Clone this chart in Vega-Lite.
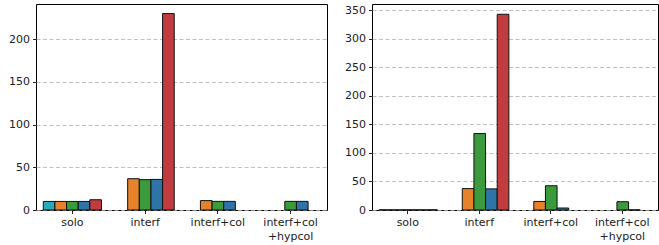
{
  "$schema": "https://vega.github.io/schema/vega-lite/v6.json",
  "padding": {"left": 8, "top": 3, "right": 1, "bottom": 0},
  "background": "white",
  "spacing": 16,
  "config": {
    "font": "DejaVu Sans",
    "view": {"stroke": "#000000", "strokeWidth": 1},
    "axis": {
      "labelFont": "DejaVu Sans",
      "labelFontSize": 11,
      "labelColor": "#222222",
      "tickColor": "#222222",
      "tickSize": 3.5,
      "domain": false,
      "title": null
    },
    "bar": {"stroke": "#111111", "strokeWidth": 1}
  },
  "datasets": {
    "left": [
      {"cat": "solo", "series": "s1", "value": 10},
      {"cat": "solo", "series": "s2", "value": 10},
      {"cat": "solo", "series": "s3", "value": 10},
      {"cat": "solo", "series": "s4", "value": 10},
      {"cat": "solo", "series": "s5", "value": 12},
      {"cat": "interf", "series": "s2", "value": 36.6},
      {"cat": "interf", "series": "s3", "value": 35.5},
      {"cat": "interf", "series": "s4", "value": 35.8},
      {"cat": "interf", "series": "s5", "value": 229.8},
      {"cat": "interf+col", "series": "s2", "value": 11},
      {"cat": "interf+col", "series": "s3", "value": 10.1},
      {"cat": "interf+col", "series": "s4", "value": 10.1},
      {"cat": "interf+col +hypcol", "series": "s3", "value": 10.1},
      {"cat": "interf+col +hypcol", "series": "s4", "value": 10.1}
    ],
    "right": [
      {"cat": "solo", "series": "s1", "value": 0.3},
      {"cat": "solo", "series": "s2", "value": 0.3},
      {"cat": "solo", "series": "s3", "value": 0.3},
      {"cat": "solo", "series": "s4", "value": 0.3},
      {"cat": "solo", "series": "s5", "value": 0.3},
      {"cat": "interf", "series": "s2", "value": 37.5},
      {"cat": "interf", "series": "s3", "value": 134},
      {"cat": "interf", "series": "s4", "value": 37},
      {"cat": "interf", "series": "s5", "value": 343},
      {"cat": "interf+col", "series": "s2", "value": 15},
      {"cat": "interf+col", "series": "s3", "value": 42.5},
      {"cat": "interf+col", "series": "s4", "value": 3.5},
      {"cat": "interf+col +hypcol", "series": "s3", "value": 14.5},
      {"cat": "interf+col +hypcol", "series": "s4", "value": 0.3}
    ]
  },
  "hconcat": [
    {
      "width": 291,
      "height": 206,
      "data": {"name": "left"},
      "mark": {"type": "bar"},
      "encoding": {
        "x": {
          "field": "cat", "type": "nominal",
          "sort": ["solo", "interf", "interf+col", "interf+col +hypcol"],
          "scale": {"domain": ["solo", "interf", "interf+col", "interf+col +hypcol"], "paddingInner": 0.2, "paddingOuter": 0.1},
          "axis": {"labelAngle": 0, "labelExpr": "split(datum.label, ' ')", "labelPadding": 3, "labelLineHeight": 14, "grid": false}
        },
        "xOffset": {"field": "series", "type": "nominal", "scale": {"domain": ["s1", "s2", "s3", "s4", "s5"], "paddingInner": 0, "paddingOuter": 0}},
        "y": {
          "field": "value", "type": "quantitative",
          "scale": {"domain": [0, 241], "nice": false},
          "axis": {"values": [0, 50, 100, 150, 200], "grid": true, "gridColor": "#b0b0b0", "gridDash": [4, 2.5], "gridWidth": 0.8, "labelPadding": 3}
        },
        "color": {
          "field": "series", "type": "nominal", "legend": null,
          "scale": {"domain": ["s1", "s2", "s3", "s4", "s5"], "range": ["#2ba7ba", "#e5822b", "#3b9a3b", "#2e74a6", "#c03c3e"]}
        }
      }
    },
    {
      "width": 286,
      "height": 206,
      "data": {"name": "right"},
      "mark": {"type": "bar"},
      "encoding": {
        "x": {
          "field": "cat", "type": "nominal",
          "sort": ["solo", "interf", "interf+col", "interf+col +hypcol"],
          "scale": {"domain": ["solo", "interf", "interf+col", "interf+col +hypcol"], "paddingInner": 0.2, "paddingOuter": 0.1},
          "axis": {"labelAngle": 0, "labelExpr": "split(datum.label, ' ')", "labelPadding": 3, "labelLineHeight": 14, "grid": false}
        },
        "xOffset": {"field": "series", "type": "nominal", "scale": {"domain": ["s1", "s2", "s3", "s4", "s5"], "paddingInner": 0, "paddingOuter": 0}},
        "y": {
          "field": "value", "type": "quantitative",
          "scale": {"domain": [0, 361], "nice": false},
          "axis": {"values": [0, 50, 100, 150, 200, 250, 300, 350], "grid": true, "gridColor": "#b0b0b0", "gridDash": [4, 2.5], "gridWidth": 0.8, "labelPadding": 3}
        },
        "color": {
          "field": "series", "type": "nominal", "legend": null,
          "scale": {"domain": ["s1", "s2", "s3", "s4", "s5"], "range": ["#2ba7ba", "#e5822b", "#3b9a3b", "#2e74a6", "#c03c3e"]}
        }
      }
    }
  ]
}
